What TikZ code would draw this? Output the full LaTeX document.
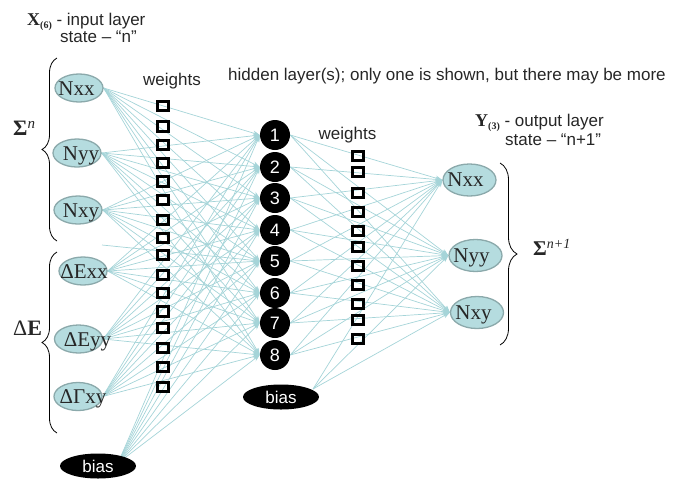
\documentclass[tikz,border=0pt]{standalone}
\usepackage{fontspec}
\setmainfont{Liberation Serif}
\setsansfont{Liberation Sans}
\usetikzlibrary{arrows.meta,decorations.pathreplacing,shapes.geometric,backgrounds}
\definecolor{wirec}{HTML}{A5D4D8}
\definecolor{nfill}{HTML}{B5DCDF}
\definecolor{nedge}{HTML}{8BA9AB}
\definecolor{txt}{HTML}{262626}
\begin{document}
\begin{tikzpicture}[x=1pt,y=-1pt,
 inell/.style={ellipse,draw=nedge,fill=nfill,line width=1.3pt,minimum width=48pt,minimum height=28pt,inner sep=0pt},
 outell/.style={inell,minimum width=53pt,minimum height=32pt},
 elab/.style={anchor=base,inner sep=0pt,font=\fontsize{21}{24}\selectfont,text=txt},
 hid/.style={circle,fill=black,minimum size=30pt,inner sep=0pt,text=white,font=\sffamily\fontsize{18}{20}\selectfont},
 biasn/.style={ellipse,fill=black,minimum width=76pt,minimum height=25pt,inner sep=0pt,text=white,font=\sffamily\fontsize{17}{20}\selectfont},
 wsq/.style={draw=black,line width=2.8pt,minimum width=11.5pt,minimum height=9.5pt,inner sep=0pt},
 wire/.style={draw=wirec,line width=0.7pt},
 warr/.style={wire,-{Stealth[length=7pt,width=5pt]}},
 stxt/.style={font=\sffamily\fontsize{17}{20}\selectfont,text=txt,inner sep=0pt},
 brc/.style={decorate,decoration={brace,amplitude=#1},line width=0.8pt}
]
\useasboundingbox (0,0) rectangle (677,480);

% input layer
\node[inell] (i1) at (79,88) {};
\node[inell] (i2) at (77,153) {};
\node[inell] (i3) at (78,210) {};
\node[inell] (i4) at (83,271) {};
\node[inell] (i5) at (78.5,339) {};
\node[inell] (i6) at (78,396.5) {};
\node[biasn] (ib) at (98,466) {bias};
\coordinate (ibs) at (118,463);
\coordinate (sx) at (102,245);

% hidden layer
\foreach \j/\y in {1/135,2/167,3/198,4/230,5/261,6/293,7/323,8/355}
  \node[hid] (h\j) at (275,\y) {\j};
\node[biasn] (hb) at (281,397) {bias};
\coordinate (hbs) at (313,389);

% output layer
\node[outell] (o1) at (469.5,180) {};
\node[outell] (o2) at (475.5,255.5) {};
\node[outell] (o3) at (477,312.5) {};

% connectors, behind the nodes
\begin{scope}[on background layer]
\foreach \i in {1,...,6}
  \foreach \j in {1,...,8}
    \draw[warr] (i\i.east) -- (h\j.west);
\foreach \j in {1,...,8}
  \draw[warr] (ibs) -- (h\j.west);
\draw[warr] (sx) -- (h5.west);
\foreach \j in {1,...,8}
  \foreach \k in {1,2,3}
    \draw[warr] (h\j.east) -- (o\k.west);
\foreach \k in {1,2,3}
  \draw[warr] (hbs) -- (o\k.west);
\end{scope}

% node labels
\node[elab] (l1) at (76.5,95) {Nxx};
\node[elab] (l2) at (81,160) {Nyy};
\node[elab] (l3) at (81,217) {Nxy};
\node[elab] (l4) at (84,278) {ΔExx};
\node[elab] (l5) at (87.5,346) {ΔEyy};
\node[elab] (l6) at (83,403.5) {ΔΓxy};
\node[elab] (m1) at (465.5,186.5) {Nxx};
\node[elab] (m2) at (471.5,262) {Nyy};
\node[elab] (m3) at (473.5,319) {Nxy};

% weight squares
\foreach \y [count=\c] in {106,126.5,145,163,181.5,200,220,238,255,275,293,311.5,328,348,367,387}
  \node[wsq] (wl\c) at (163,\y) {};
\foreach \y [count=\c] in {156,172,193,212,231,247,266,285,304,320,339}
  \node[wsq] (wr\c) at (358,\y) {};

% texts
\node[stxt,anchor=base] (tw1) at (172,85) {weights};
\node[stxt,anchor=base] (tw2) at (347.5,139) {weights};
\node[stxt,anchor=base west] (th) at (228,80) {hidden layer(s); only one is shown, but there may be more};
\node[anchor=base west,inner sep=0pt,text=txt] (hx) at (27,25)
  {\fontsize{18}{20}\selectfont\bfseries X\raisebox{-3pt}{\fontsize{10}{12}\selectfont(6)}\normalfont\sffamily\fontsize{17}{20}\selectfont{} - input layer};
\node[stxt,anchor=base west] (hx2) at (60,42) {state – “n”};
\node[anchor=base west,inner sep=0pt,text=txt] (hy) at (475,126)
  {\fontsize{18}{20}\selectfont\bfseries Y\raisebox{-3pt}{\fontsize{10}{12}\selectfont(3)}\normalfont\sffamily\fontsize{17}{20}\selectfont{} - output layer};
\node[stxt,anchor=base west] (hy2) at (505,145) {state – “n+1”};

% braces and their labels
\draw[brc=15pt] (57,241) -- (57,58);
\draw[brc=15pt] (57,433) -- (57,252);
\draw[brc=17pt] (500,163) -- (500,345);
\node[anchor=base west,inner sep=0pt,text=txt] (sn) at (13,135)
  {\fontsize{22}{24}\selectfont\textbf{Σ}\raisebox{7pt}{\fontsize{15}{16}\selectfont\itshape n}};
\node[anchor=base west,inner sep=0pt,text=txt] (de) at (13,335)
  {\fontsize{22}{24}\selectfont Δ\textbf{E}};
\node[anchor=base west,inner sep=0pt,text=txt] (sn1) at (533,255)
  {\fontsize{21}{24}\selectfont\textbf{Σ}\raisebox{7pt}{\fontsize{14}{16}\selectfont\itshape n+1}};
\end{tikzpicture}
\end{document}
